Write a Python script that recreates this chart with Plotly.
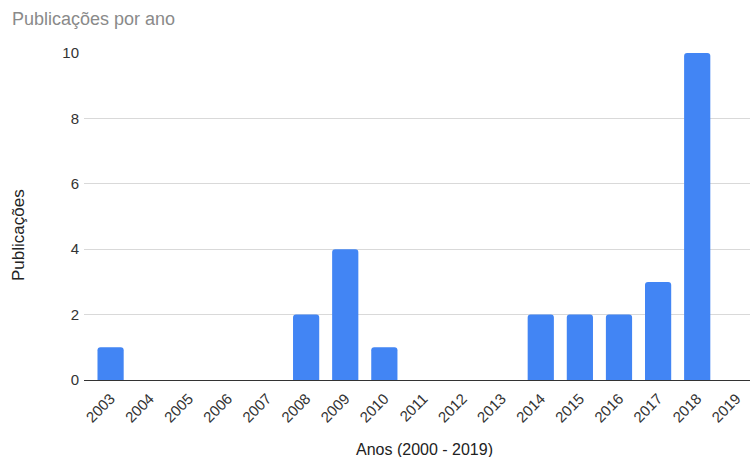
import plotly.graph_objects as go

anos = ["2003", "2004", "2005", "2006", "2007", "2008", "2009", "2010", "2011",
        "2012", "2013", "2014", "2015", "2016", "2017", "2018", "2019"]
publicacoes = [1, 0, 0, 0, 0, 2, 4, 1, 0, 0, 0, 2, 2, 2, 3, 10, 0]
y_ticks = [0, 2, 4, 6, 8, 10]

W, H = 750, 457
ml, mr, mt, mb = 84, 0, 53, 77
FONT = "Liberation Sans, Arial, sans-serif"

fig = go.Figure(go.Bar(x=anos, y=publicacoes, marker_color="#4285F4",
                       marker_line_width=0))

fig.update_layout(
    width=W, height=H,
    margin=dict(l=ml, r=mr, t=mt, b=mb, pad=0),
    paper_bgcolor="white", plot_bgcolor="white",
    bargap=0.33, barcornerradius=3,
    font=dict(family=FONT, size=15, color="#333"),
    showlegend=False,
    xaxis=dict(type="category", range=[-0.68, 16.35], tickangle=-45,
               showgrid=False, showline=True, linecolor="#333", linewidth=1,
               ticks="outside", ticklen=3, tickcolor="white",
               tickfont=dict(size=15, color="#333"), fixedrange=True),
    yaxis=dict(range=[0, 10], tickvals=y_ticks, showgrid=True,
               gridcolor="#d9d9d9", gridwidth=1, zeroline=False,
               ticks="outside", ticklen=1, tickcolor="white",
               tickfont=dict(size=15, color="#333"), fixedrange=True),
    annotations=[
        dict(text="Publicações por ano", xref="paper", yref="paper",
             x=-ml / (W - ml - mr), y=1 + (mt - 19) / (H - mt - mb),
             xanchor="left", yanchor="middle", showarrow=False,
             xshift=10, font=dict(size=18, color="#8a8a8a")),
        dict(text="Anos (2000 - 2019)", xref="paper", yref="paper",
             x=(424 - ml) / (W - ml - mr), y=-(449 - (H - mb)) / (H - mt - mb),
             xanchor="center", yanchor="middle", showarrow=False,
             font=dict(size=16, color="#222")),
        dict(text="Publicações", xref="paper", yref="paper",
             x=-(ml - 18) / (W - ml - mr), y=(H - mb - 235) / (H - mt - mb),
             xanchor="center", yanchor="middle", showarrow=False, textangle=-90,
             font=dict(size=17, color="#222")),
    ],
)

fig.write_html("out.html")
